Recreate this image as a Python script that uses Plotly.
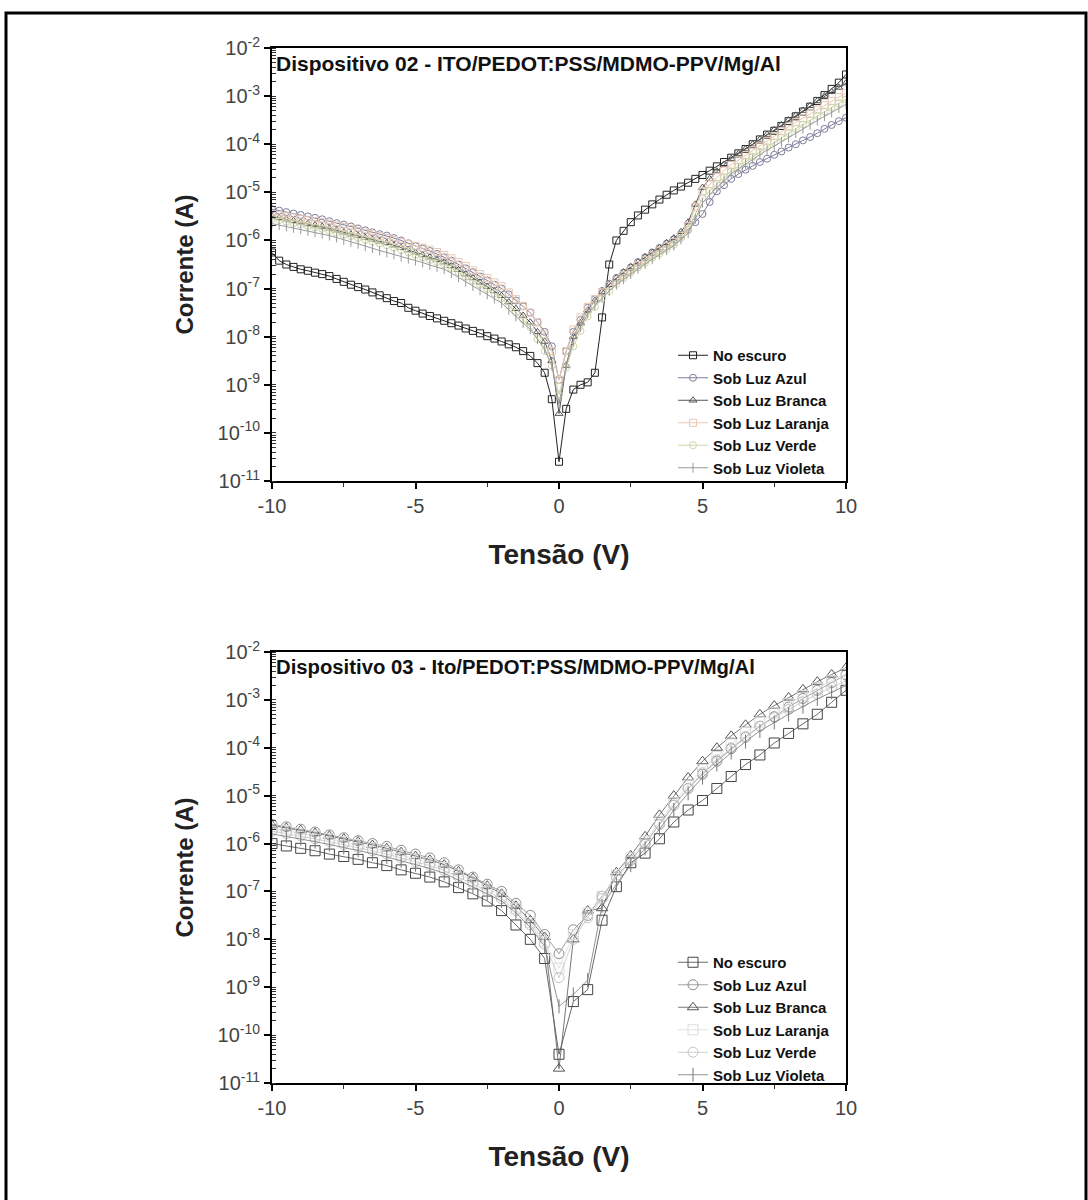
import plotly.graph_objects as go

# ---------------- data (log10 of current in A) ----------------
v_top = [-10, -9.75, -9.5, -9.25, -9, -8.75, -8.5, -8.25, -8, -7.75,
         -7.5, -7.25, -7, -6.75, -6.5, -6.25, -6, -5.75, -5.5, -5.25,
         -5, -4.75, -4.5, -4.25, -4, -3.75, -3.5, -3.25, -3, -2.75,
         -2.5, -2.25, -2, -1.75, -1.5, -1.25, -1, -0.75, -0.5, -0.25,
         0, 0.25, 0.5, 0.75, 1, 1.25, 1.5, 1.75, 2, 2.25,
         2.5, 2.75, 3, 3.25, 3.5, 3.75, 4, 4.25, 4.5, 4.75,
         5, 5.25, 5.5, 5.75, 6, 6.25, 6.5, 6.75, 7, 7.25,
         7.5, 7.75, 8, 8.25, 8.5, 8.75, 9, 9.25, 9.5, 9.75,
         10]

top_escuro = [-6.25, -6.42, -6.50, -6.55, -6.60, -6.63, -6.67, -6.70, -6.74, -6.80,
              -6.86, -6.92, -6.97, -7.02, -7.08, -7.14, -7.20, -7.26, -7.30, -7.40,
              -7.46, -7.52, -7.57, -7.62, -7.67, -7.72, -7.77, -7.83, -7.88, -7.93,
              -7.99, -8.04, -8.10, -8.16, -8.22, -8.30, -8.40, -8.55, -8.75, -9.30,
              -10.60, -9.50, -9.10, -9.00, -8.95, -8.75, -7.60, -6.50, -6.00, -5.80,
              -5.62, -5.48, -5.36, -5.25, -5.15, -5.05, -4.96, -4.88, -4.80, -4.72,
              -4.64, -4.55, -4.46, -4.37, -4.28, -4.19, -4.10, -4.00, -3.90, -3.80,
              -3.72, -3.62, -3.52, -3.42, -3.32, -3.22, -3.10, -2.98, -2.85, -2.72,
              -2.55]
top_azul = [-5.35, -5.38, -5.41, -5.44, -5.47, -5.50, -5.53, -5.56, -5.60, -5.64,
            -5.67, -5.71, -5.75, -5.79, -5.83, -5.87, -5.90, -5.95, -6.00, -6.06,
            -6.12, -6.17, -6.22, -6.28, -6.35, -6.42, -6.50, -6.58, -6.66, -6.75,
            -6.83, -6.92, -7.00, -7.12, -7.25, -7.37, -7.50, -7.70, -7.90, -8.20,
            -8.90, -8.30, -7.90, -7.65, -7.40, -7.22, -7.05, -6.90, -6.78, -6.67,
            -6.56, -6.45, -6.35, -6.25, -6.16, -6.07, -5.98, -5.88, -5.78, -5.62,
            -5.45, -5.20, -4.98, -4.85, -4.72, -4.62, -4.53, -4.45, -4.37, -4.30,
            -4.22, -4.15, -4.07, -4.00, -3.92, -3.85, -3.77, -3.68, -3.60, -3.52,
            -3.45]
top_branca = [-5.50, -5.53, -5.56, -5.59, -5.62, -5.65, -5.68, -5.71, -5.75, -5.79,
              -5.83, -5.87, -5.90, -5.94, -5.98, -6.02, -6.05, -6.10, -6.15, -6.20,
              -6.25, -6.30, -6.35, -6.40, -6.45, -6.53, -6.61, -6.70, -6.78, -6.87,
              -6.96, -7.05, -7.15, -7.28, -7.42, -7.56, -7.70, -7.90, -8.10, -8.50,
              -9.60, -8.60, -8.00, -7.72, -7.45, -7.25, -7.07, -6.92, -6.78, -6.66,
              -6.55, -6.45, -6.35, -6.25, -6.15, -6.05, -5.95, -5.82, -5.62, -5.25,
              -4.90, -4.72, -4.56, -4.42, -4.30, -4.20, -4.10, -4.00, -3.90, -3.80,
              -3.70, -3.60, -3.50, -3.40, -3.30, -3.20, -3.10, -3.00, -2.91, -2.82,
              -2.73]
top_laranja = [-5.45, -5.47, -5.50, -5.52, -5.55, -5.57, -5.60, -5.62, -5.65, -5.69,
               -5.72, -5.76, -5.80, -5.84, -5.87, -5.91, -5.95, -5.99, -6.03, -6.07,
               -6.11, -6.15, -6.19, -6.24, -6.30, -6.37, -6.45, -6.53, -6.62, -6.70,
               -6.78, -6.87, -6.95, -7.08, -7.22, -7.36, -7.50, -7.70, -7.95, -8.30,
               -8.90, -8.30, -7.85, -7.60, -7.38, -7.22, -7.08, -6.95, -6.83, -6.72,
               -6.61, -6.51, -6.41, -6.31, -6.21, -6.12, -6.03, -5.90, -5.70, -5.30,
               -4.98, -4.83, -4.68, -4.55, -4.43, -4.33, -4.23, -4.13, -4.03, -3.93,
               -3.83, -3.73, -3.63, -3.54, -3.46, -3.37, -3.28, -3.19, -3.10, -3.02,
               -2.94]
top_verde = [-5.55, -5.58, -5.61, -5.64, -5.67, -5.70, -5.73, -5.76, -5.80, -5.84,
             -5.88, -5.91, -5.95, -5.99, -6.03, -6.06, -6.10, -6.15, -6.20, -6.25,
             -6.30, -6.35, -6.40, -6.45, -6.50, -6.58, -6.66, -6.75, -6.83, -6.92,
             -7.01, -7.10, -7.20, -7.35, -7.50, -7.65, -7.80, -8.05, -8.30, -8.60,
             -9.20, -8.65, -8.20, -7.88, -7.58, -7.38, -7.20, -7.05, -6.90, -6.78,
             -6.67, -6.56, -6.46, -6.36, -6.27, -6.18, -6.09, -5.95, -5.78, -5.45,
             -5.12, -4.97, -4.83, -4.69, -4.56, -4.46, -4.36, -4.26, -4.16, -4.06,
             -3.96, -3.86, -3.77, -3.68, -3.59, -3.50, -3.41, -3.32, -3.24, -3.15,
             -3.07]
top_violeta = [-5.65, -5.68, -5.71, -5.74, -5.77, -5.80, -5.83, -5.86, -5.90, -5.94,
               -5.99, -6.03, -6.07, -6.12, -6.16, -6.21, -6.25, -6.29, -6.34, -6.38,
               -6.42, -6.46, -6.51, -6.55, -6.60, -6.68, -6.77, -6.86, -6.95, -7.04,
               -7.12, -7.21, -7.30, -7.44, -7.58, -7.72, -7.85, -8.05, -8.25, -8.60,
               -9.40, -8.60, -8.10, -7.80, -7.52, -7.35, -7.19, -7.05, -6.92, -6.81,
               -6.70, -6.59, -6.49, -6.39, -6.29, -6.20, -6.11, -5.98, -5.85, -5.55,
               -5.22, -5.05, -4.89, -4.75, -4.61, -4.51, -4.41, -4.31, -4.21, -4.12,
               -4.04, -3.95, -3.86, -3.77, -3.68, -3.60, -3.51, -3.42, -3.34, -3.25,
               -3.17]

v_bot = [-10, -9.5, -9, -8.5, -8, -7.5, -7, -6.5, -6, -5.5,
         -5, -4.5, -4, -3.5, -3, -2.5, -2, -1.5, -1, -0.5,
         0, 0.5, 1, 1.5, 2, 2.5, 3, 3.5, 4, 4.5,
         5, 5.5, 6, 6.5, 7, 7.5, 8, 8.5, 9, 9.5,
         10]

bot_escuro = [-6.00, -6.05, -6.10, -6.15, -6.22, -6.27, -6.33, -6.40, -6.46, -6.55,
              -6.62, -6.70, -6.80, -6.92, -7.05, -7.20, -7.40, -7.70, -8.00, -8.40,
              -10.40, -9.30, -9.05, -7.60, -6.90, -6.40, -6.20, -5.90, -5.55, -5.30,
              -5.10, -4.85, -4.60, -4.35, -4.15, -3.90, -3.70, -3.50, -3.30, -3.05,
              -2.80]
bot_azul = [-5.60, -5.65, -5.70, -5.76, -5.82, -5.88, -5.94, -6.00, -6.06, -6.14,
            -6.22, -6.30, -6.40, -6.55, -6.70, -6.85, -7.00, -7.25, -7.50, -7.90,
            -8.30, -7.80, -7.50, -7.10, -6.70, -6.35, -6.00, -5.60, -5.20, -4.85,
            -4.55, -4.28, -4.02, -3.78, -3.55, -3.35, -3.15, -2.97, -2.80, -2.64,
            -2.48]
bot_branca = [-5.62, -5.67, -5.72, -5.78, -5.84, -5.90, -5.96, -6.03, -6.10, -6.18,
              -6.26, -6.34, -6.44, -6.58, -6.72, -6.88, -7.05, -7.30, -7.60, -7.95,
              -10.70, -8.00, -7.40, -7.35, -6.60, -6.25, -5.85, -5.40, -5.00, -4.62,
              -4.28, -4.00, -3.75, -3.52, -3.30, -3.12, -2.95, -2.78, -2.62, -2.47,
              -2.33]
bot_laranja = [-5.68, -5.73, -5.78, -5.84, -5.90, -5.96, -6.02, -6.09, -6.16, -6.24,
               -6.32, -6.40, -6.50, -6.64, -6.78, -6.93, -7.10, -7.35, -7.65, -8.05,
               -8.60, -7.90, -7.45, -7.10, -6.65, -6.30, -5.95, -5.55, -5.15, -4.78,
               -4.45, -4.18, -3.92, -3.68, -3.46, -3.27, -3.08, -2.91, -2.75, -2.60,
               -2.45]
bot_verde = [-5.74, -5.79, -5.84, -5.90, -5.96, -6.02, -6.08, -6.15, -6.22, -6.30,
             -6.38, -6.46, -6.56, -6.70, -6.84, -6.99, -7.15, -7.40, -7.70, -8.10,
             -8.80, -8.00, -7.55, -7.15, -6.70, -6.35, -6.00, -5.60, -5.20, -4.85,
             -4.52, -4.25, -4.00, -3.77, -3.55, -3.37, -3.20, -3.04, -2.88, -2.74,
             -2.60]
bot_violeta = [-5.80, -5.85, -5.90, -5.96, -6.02, -6.08, -6.14, -6.21, -6.28, -6.36,
               -6.44, -6.52, -6.62, -6.76, -6.90, -7.05, -7.20, -7.45, -7.75, -8.15,
               -9.40, -9.15, -8.85, -7.30, -6.85, -6.45, -6.10, -5.70, -5.30, -4.95,
               -4.62, -4.35, -4.10, -3.87, -3.65, -3.47, -3.30, -3.14, -2.98, -2.84,
               -2.70]

series_names = ["No escuro", "Sob Luz Azul", "Sob Luz Branca",
                "Sob Luz Laranja", "Sob Luz Verde", "Sob Luz Violeta"]
y_tick_exps = [-11, -10, -9, -8, -7, -6, -5, -4, -3, -2]
x_tick_vals = [-10, -5, 0, 5, 10]
x_tick_text = ["-10", "-5", "0", "5", "10"]
title_top = "Dispositivo 02 - ITO/PEDOT:PSS/MDMO-PPV/Mg/Al"
title_bot = "Dispositivo 03 - Ito/PEDOT:PSS/MDMO-PPV/Mg/Al"

# ---------------- styles ----------------
FONT = "Liberation Sans, Arial, sans-serif"
top_styles = [
    dict(color="#222222", symbol="square-open", lw=1.0),
    dict(color="#7c7c9c", symbol="circle-open", lw=1.0),
    dict(color="#555555", symbol="triangle-up-open", lw=1.0),
    dict(color="#e6c8b4", symbol="square-open", lw=1.0),
    dict(color="#cfd6a8", symbol="circle-open", lw=1.0),
    dict(color="#9a9a9a", symbol="line-ns-open", lw=1.0),
]
bot_styles = [
    dict(color="#444444", symbol="square-open", lw=0.8),
    dict(color="#8a8a8a", symbol="circle-open", lw=0.8),
    dict(color="#555555", symbol="triangle-up-open", lw=0.8),
    dict(color="#dcdcdc", symbol="square-open", lw=0.8),
    dict(color="#c4c4c4", symbol="circle-open", lw=0.8),
    dict(color="#777777", symbol="line-ns-open", lw=0.8),
]

fig = go.Figure()

top_data = [top_escuro, top_azul, top_branca, top_laranja, top_verde, top_violeta]
bot_data = [bot_escuro, bot_azul, bot_branca, bot_laranja, bot_verde, bot_violeta]

for name, vals, st in zip(series_names, top_data, top_styles):
    fig.add_trace(go.Scatter(
        x=v_top, y=[10 ** v for v in vals], name=name, mode="lines+markers",
        line=dict(color=st["color"], width=st["lw"]),
        marker=dict(symbol=st["symbol"], size=7, color=st["color"],
                    line=dict(width=1, color=st["color"])),
        xaxis="x", yaxis="y", legend="legend", hoverinfo="skip"))

for name, vals, st in zip(series_names, bot_data, bot_styles):
    fig.add_trace(go.Scatter(
        x=v_bot, y=[10 ** v for v in vals], name=name, mode="lines+markers",
        line=dict(color=st["color"], width=st["lw"]),
        marker=dict(symbol=st["symbol"], size=10, color=st["color"],
                    line=dict(width=1, color=st["color"])),
        xaxis="x2", yaxis="y2", legend="legend2", hoverinfo="skip"))

W, H = 1088, 1200
def px_x(p):
    return p / W
def px_y(p):
    return 1 - p / H

ytickvals = [10 ** e for e in y_tick_exps]
yticktext = ["10<sup>%d</sup>" % e for e in y_tick_exps]

def yaxis_cfg(domain, anchor):
    return dict(type="log", range=[-11, -2], domain=domain, anchor=anchor,
                automargin=False,
                tickvals=ytickvals, ticktext=yticktext,
                ticks="outside", ticklen=6, tickwidth=1.5, tickcolor="#000",
                minor=dict(ticks="inside", ticklen=4, tickwidth=1, tickcolor="#333",
                           dtick="D1"),
                showline=True, linewidth=2, linecolor="#000", mirror=True,
                showgrid=False, zeroline=False,
                tickfont=dict(family=FONT, size=20, color="#444"),
                title=dict(text="<b>Corrente (A)</b>", standoff=17,
                           font=dict(family=FONT, size=24, color="#222")))

def xaxis_cfg(domain, anchor):
    return dict(range=[-10, 10], domain=domain, anchor=anchor,
                automargin=False,
                tickvals=x_tick_vals, ticktext=x_tick_text,
                ticks="outside", ticklen=6, tickwidth=1.5,
                tickcolor="#000",
                minor=dict(ticks="outside", ticklen=4, tickwidth=1, tickcolor="#333",
                           dtick=2.5),
                showline=True, linewidth=2, linecolor="#000", mirror=True,
                showgrid=False, zeroline=False,
                tickfont=dict(family=FONT, size=20, color="#444"),
                title=dict(text="<b>Tensão (V)</b>", standoff=28,
                           font=dict(family=FONT, size=28, color="#222")))

xdom = [px_x(272), px_x(846)]
fig.update_layout(
    width=W, height=H, margin=dict(l=0, r=0, t=0, b=0, pad=0, autoexpand=False),
    paper_bgcolor="white", plot_bgcolor="white",
    font=dict(family=FONT),
    xaxis=xaxis_cfg(xdom, "y"),
    yaxis=yaxis_cfg([px_y(481), px_y(48)], "x"),
    xaxis2=xaxis_cfg(xdom, "y2"),
    yaxis2=yaxis_cfg([px_y(1083), px_y(652)], "x2"),
    legend=dict(x=px_x(673), y=px_y(339), xanchor="left", yanchor="top",
                bgcolor="rgba(0,0,0,0)", borderwidth=0,
                font=dict(family=FONT, size=15, color="#111", weight="bold"),
                tracegroupgap=0),
    legend2=dict(x=px_x(673), y=px_y(946), xanchor="left", yanchor="top",
                 bgcolor="rgba(0,0,0,0)", borderwidth=0,
                 font=dict(family=FONT, size=15, color="#111", weight="bold"),
                 tracegroupgap=0),
    showlegend=True,
    annotations=[
        dict(text=title_top, xref="x domain", yref="y domain", x=0.004, y=0.995,
             xanchor="left", yanchor="top", showarrow=False,
             font=dict(family=FONT, size=21, color="#111", weight="bold")),
        dict(text=title_bot, xref="x2 domain", yref="y2 domain", x=0.004, y=0.995,
             xanchor="left", yanchor="top", showarrow=False,
             font=dict(family=FONT, size=20.3, color="#111", weight="bold")),
    ],
    shapes=[
        dict(type="rect", xref="paper", yref="paper",
             x0=px_x(6), x1=px_x(1086), y0=px_y(1202), y1=px_y(13),
             line=dict(color="#000", width=3), fillcolor="rgba(0,0,0,0)"),
    ],
)

fig.write_html("out.html")
